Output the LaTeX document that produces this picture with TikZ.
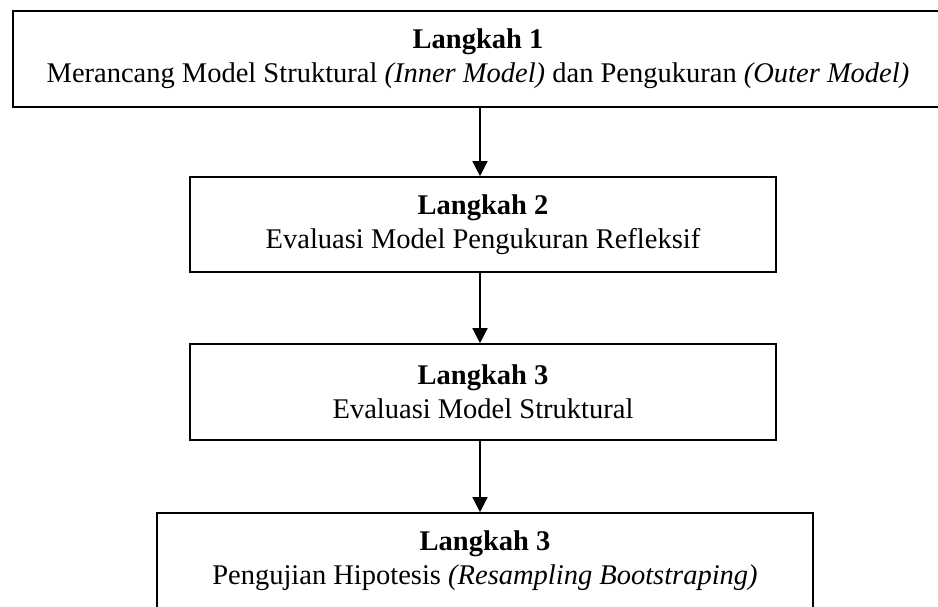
\documentclass[tikz,border=0pt]{standalone}
\usepackage{fontspec}
\setmainfont{Liberation Serif}
\usetikzlibrary{arrows.meta}
\begin{document}
\begin{tikzpicture}[x=1pt,y=-1pt,
  stepbox/.style={draw=black,line width=1.6pt,rectangle,align=center,inner sep=0pt,
    font=\fontsize{28.5}{34}\selectfont},
  arr/.style={line width=1.4pt,-{Triangle[width=15pt,length=15pt]}}]
\useasboundingbox (0,0) rectangle (938,607);
\node[stepbox,minimum width=930pt,minimum height=96pt] (b1) at (478,59)
  {\textbf{Langkah 1}\\Merancang Model Struktural \textit{(Inner Model)} dan Pengukuran \textit{(Outer Model)}};
\node[stepbox,minimum width=586pt,minimum height=95pt] (b2) at (483,224.5)
  {\textbf{Langkah 2}\\Evaluasi Model Pengukuran Refleksif};
\node[stepbox,minimum width=586pt,minimum height=96pt] (b3) at (483,392)
  {\textbf{Langkah 3}\\Evaluasi Model Struktural};
\node[stepbox,minimum width=656pt,minimum height=96pt] (b4) at (485,561)
  {\textbf{Langkah 3}\\Pengujian Hipotesis \textit{(Resampling Bootstraping)}};
\coordinate (ax) at (480,0);
\draw[arr] (b1.south -| ax) -- (b2.north -| ax);
\draw[arr] (b2.south -| ax) -- (b3.north -| ax);
\draw[arr] (b3.south -| ax) -- (b4.north -| ax);
\end{tikzpicture}
\end{document}
